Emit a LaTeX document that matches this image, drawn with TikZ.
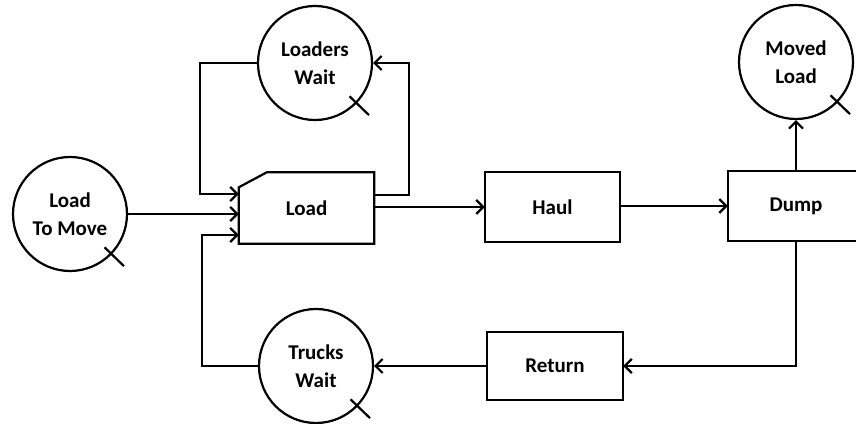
\documentclass[tikz,border=0pt]{standalone}
\usepackage{fontspec}
\setmainfont{Carlito}
\usetikzlibrary{arrows.meta,calc}

\tikzset{
	stock/.style={circle, draw, line width=2.2pt, minimum size=114pt, inner sep=0pt, align=center},
	flowbox/.style={rectangle, minimum width=135pt, minimum height=69pt, align=center},
	link/.style={line width=2.2pt, -{Straight Barb[length=7pt,width=14pt]}},
	plain/.style={line width=2.2pt}
}

\begin{document}
\begin{tikzpicture}[x=1pt,y=1pt,font=\fontsize{21}{28}\selectfont\bfseries]
	\useasboundingbox (0,0) rectangle (856,423);
	% stocks
	\node[stock] (ltm) at (70,209) {Load\\To Move};
	\node[stock] (lw) at (315,360) {Loaders\\Wait};
	\node[stock] (tw) at (316,57) {Trucks\\Wait};
	\node[stock] (ml) at (796,361) {Moved\\Load};
	% activities
	\node[flowbox, minimum height=71pt] (load) at (306.5,215) {Load};
	\node[flowbox] (haul) at (552.5,216) {Haul};
	\node[flowbox, minimum width=136pt] (dump) at (796,217) {Dump};
	\node[flowbox, minimum width=136pt, minimum height=67pt] (ret) at (555,57) {Return};
	\draw[plain] ([yshift=-15pt]load.north west) -- ([xshift=28pt]load.north west) -- (load.north east) -- (load.south east) -- (load.south west) -- cycle;
	\foreach \b in {haul,dump,ret}
		\draw[plain] (\b.north west) rectangle (\b.south east);
	% ticks on the stocks
	\foreach \s in {ltm,lw,tw,ml}
		\draw[plain] ($(\s.center)+(-44:48)$) -- ($(\s.center)+(-44:75)$);
	% corners of the loops
	\coordinate (c1) at (200,229);
	\coordinate (c2) at (409,228);
	\coordinate (c3) at (202,188);
	\coordinate (c4) at (796,57);
	% connectors
	\draw[link] (lw.west) -| (c1) -- (c1 -| load.west);
	\draw[link] (load.east |- c2) -- (c2) |- (lw.east);
	\draw[link] (ltm.east) -- (ltm.east -| load.west);
	\draw[link] (tw.west) -| (c3) -- (c3 -| load.west);
	\draw[link] (load.east |- haul.west) -- (haul.west);
	\draw[link] (haul.east |- dump.west) -- (dump.west);
	\draw[link] (dump.north) -- (ml.south);
	\draw[link] (dump.south) -- (c4) -- (ret.east);
	\draw[link] (ret.west) -- (tw.east);
\end{tikzpicture}
\end{document}
